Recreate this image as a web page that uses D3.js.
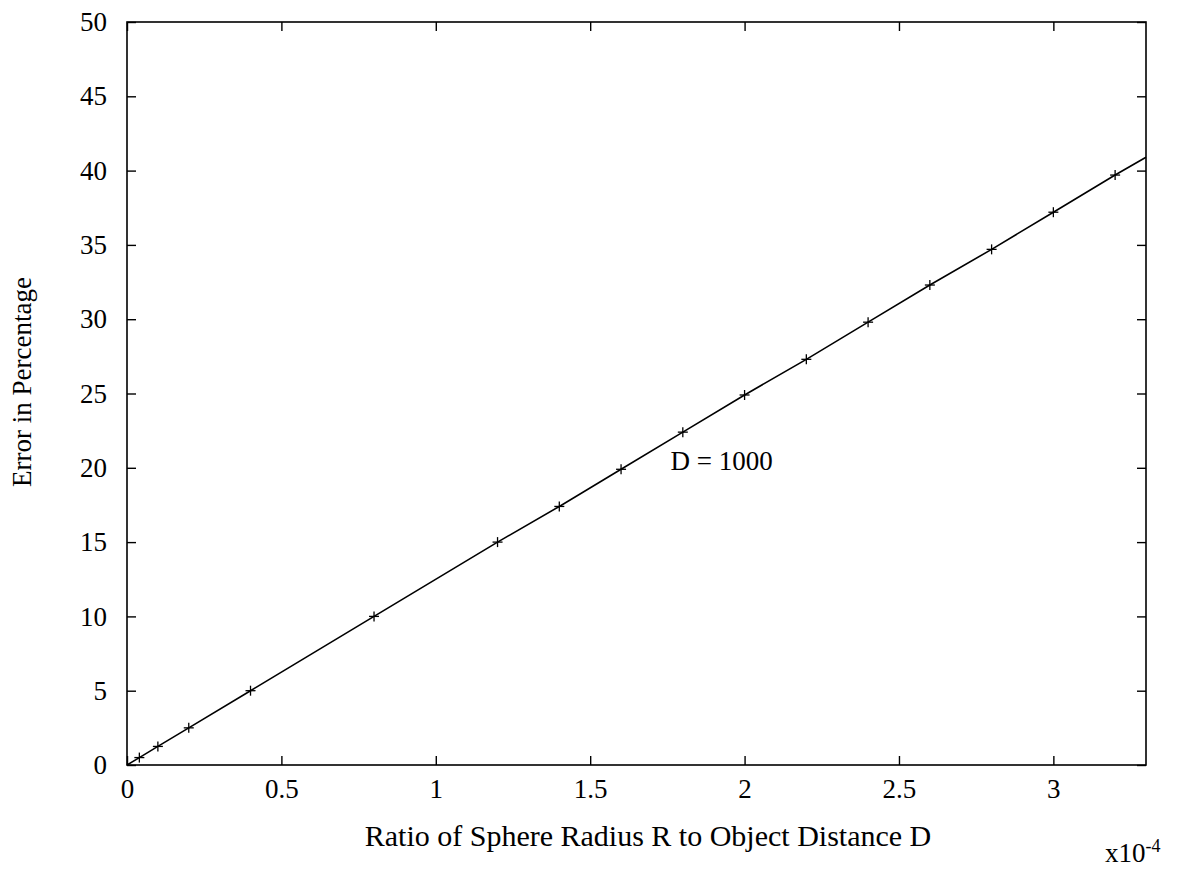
<!DOCTYPE html>
<html>
<head>
<meta charset="utf-8">
<script src="https://cdn.jsdelivr.net/npm/d3@7"></script>
<style>
  body { margin: 0; background: #fff; }
  svg text { font-family: "Liberation Serif", "DejaVu Serif", serif; fill: #000; }
</style>
</head>
<body>
<svg id="chart" width="1181" height="873"></svg>
<script>
// ratio R/D (x10^-4) and error in percent
var ratioValues = [0.04, 0.1, 0.2, 0.4, 0.8, 1.2, 1.4, 1.6, 1.8, 2.0, 2.2, 2.4, 2.6, 2.8, 3.0, 3.2]
var errorValues = [0.5, 1.25, 2.5, 5.0, 10.0, 15.0, 17.4, 19.9, 22.4, 24.9, 27.3, 29.8, 32.3, 34.7, 37.2, 39.7]
// curve end points
var curveX = [0].concat(ratioValues, [3.3])
var curveY = [0].concat(errorValues, [40.9])

var xTicks = [0, 0.5, 1, 1.5, 2, 2.5, 3]
var yTicks = [0, 5, 10, 15, 20, 25, 30, 35, 40, 45, 50]

var plotLeft = 127, plotRight = 1146, plotTop = 22, plotBottom = 765
var tickLen = 9

var svg = d3.select('#chart')

var x = d3.scaleLinear().domain([0, 3.3]).range([plotLeft, plotRight])
var y = d3.scaleLinear().domain([0, 50]).range([plotBottom, plotTop])

// frame
svg.append('rect')
  .attr('x', plotLeft).attr('y', plotTop)
  .attr('width', plotRight - plotLeft).attr('height', plotBottom - plotTop)
  .attr('fill', 'none').attr('stroke', '#000').attr('stroke-width', 1.6)

// inward ticks on all four sides, labels on left and bottom
var bottomAxis = d3.axisBottom(x).tickValues(xTicks).tickSizeInner(-tickLen).tickSizeOuter(0).tickPadding(14)
  .tickFormat(function (d) { return d3.format('')(d) })
var leftAxis = d3.axisLeft(y).tickValues(yTicks).tickSizeInner(-tickLen).tickSizeOuter(0).tickPadding(20)
var topAxis = d3.axisTop(x).tickValues(xTicks).tickSizeInner(-tickLen).tickSizeOuter(0).tickFormat('')
var rightAxis = d3.axisRight(y).tickValues(yTicks).tickSizeInner(-tickLen).tickSizeOuter(0).tickFormat('')

function styleAxis (g) {
  g.select('.domain').remove()
  g.selectAll('line').attr('stroke', '#000').attr('stroke-width', 1.4)
  g.selectAll('text').attr('font-size', 27).attr('font-family', '"Liberation Serif", serif').attr('fill', '#000')
}

svg.append('g').attr('transform', 'translate(0,' + plotBottom + ')').call(bottomAxis).call(styleAxis)
svg.append('g').attr('transform', 'translate(' + plotLeft + ',0)').call(leftAxis).call(styleAxis)
svg.append('g').attr('transform', 'translate(0,' + plotTop + ')').call(topAxis).call(styleAxis)
svg.append('g').attr('transform', 'translate(' + plotRight + ',0)').call(rightAxis).call(styleAxis)

// curve
var line = d3.line()
  .x(function (d, i) { return x(curveX[i]) })
  .y(function (d, i) { return y(curveY[i]) })

svg.append('path')
  .datum(curveX)
  .attr('d', line)
  .attr('fill', 'none')
  .attr('stroke', '#000')
  .attr('stroke-width', 1.6)

// plus markers
var arm = 5
var marks = svg.append('g').selectAll('g')
  .data(ratioValues)
  .enter().append('g')
  .attr('transform', function (d, i) { return 'translate(' + x(d) + ',' + y(errorValues[i]) + ')' })
marks.append('line').attr('x1', -arm).attr('x2', arm).attr('stroke', '#000').attr('stroke-width', 1.3)
marks.append('line').attr('y1', -arm).attr('y2', arm).attr('stroke', '#000').attr('stroke-width', 1.3)

// annotation
svg.append('text')
  .attr('x', x(1.76)).attr('y', y(20) + 2)
  .attr('font-size', 27)
  .text('D = 1000')

// axis titles
svg.append('text')
  .attr('x', 648).attr('y', 846)
  .attr('text-anchor', 'middle')
  .attr('font-size', 30)
  .text('Ratio of Sphere Radius R to Object Distance D')

svg.append('text')
  .attr('transform', 'translate(31,382) rotate(-90)')
  .attr('text-anchor', 'middle')
  .attr('font-size', 27)
  .text('Error in Percentage')

var expo = svg.append('text')
  .attr('x', 1105).attr('y', 862)
  .attr('font-size', 27)
expo.append('tspan').text('x10')
expo.append('tspan').attr('dy', -10).attr('font-size', 18).text('-4')
</script>
</body>
</html>
